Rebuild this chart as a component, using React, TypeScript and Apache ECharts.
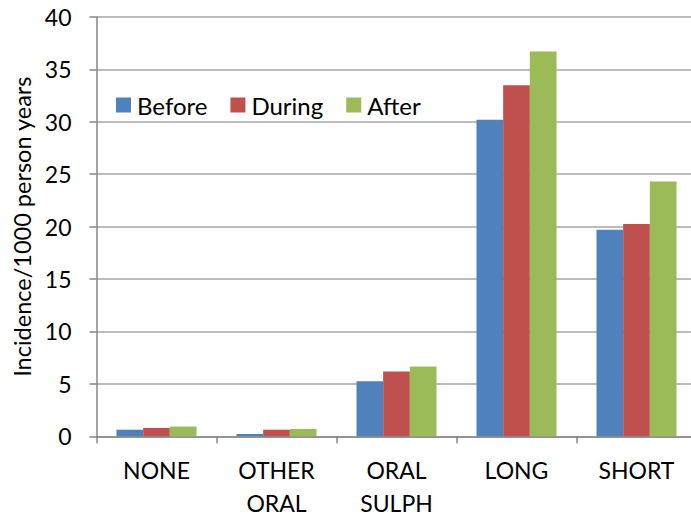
import React, { useEffect, useRef } from "react";
import * as echarts from "echarts";

const categories = ["NONE", "OTHER\nORAL", "ORAL\nSULPH", "LONG", "SHORT"];
const seriesNames = ["Before", "During", "After"];
const before = [0.63, 0.22, 5.25, 30.2, 19.7];
const during = [0.8, 0.63, 6.17, 33.5, 20.25];
const after = [0.93, 0.7, 6.65, 36.7, 24.3];
const colors = ["#4F81BD", "#C0504D", "#9BBB59"];
const yTitle = "Incidence/1000 person years";

const FONT = "Lato, 'Noto Sans', sans-serif";

export default function App() {
  const ref = useRef<HTMLDivElement>(null);

  useEffect(() => {
    if (!ref.current) return;
    const chart = echarts.init(ref.current, null, { renderer: "svg" });
    const values = [before, during, after];
    chart.setOption({
      animation: false,
      backgroundColor: "#ffffff",
      textStyle: { fontFamily: FONT, color: "#000" },
      legend: {
        left: 111,
        top: 88,
        itemWidth: 15,
        itemHeight: 15,
        itemGap: 23,
        icon: "rect",
        textStyle: { fontFamily: FONT, fontSize: 24, color: "#000", padding: [0, 0, 0, 1] },
        data: seriesNames,
      },
      grid: {
        left: 96.5,
        top: 17,
        width: 600,
        height: 419.3,
        containLabel: false,
        outerBoundsMode: "none",
      },
      xAxis: {
        type: "category",
        data: categories,
        axisLine: { lineStyle: { color: "#868686", width: 1.5 } },
        axisTick: { show: true, length: 7, lineStyle: { color: "#868686", width: 1.5 } },
        axisLabel: {
          fontFamily: FONT,
          fontSize: 23,
          color: "#000",
          margin: 17.5,
          lineHeight: 33,
          interval: 0,
        },
      },
      yAxis: {
        type: "value",
        min: 0,
        max: 40,
        interval: 5,
        name: yTitle,
        nameLocation: "middle",
        nameRotate: 90,
        nameGap: 60,
        nameTextStyle: { fontFamily: FONT, fontSize: 23.5, color: "#000" },
        axisLine: { show: true, lineStyle: { color: "#868686", width: 1.5 } },
        axisTick: { show: true, length: 7, lineStyle: { color: "#868686", width: 1.5 } },
        axisLabel: { fontFamily: FONT, fontSize: 23, color: "#000", margin: 25 },
        splitLine: { lineStyle: { color: "#A6A6A6", width: 1.5 } },
      },
      series: seriesNames.map((name, i) => ({
        name,
        type: "bar",
        data: values[i],
        barGap: "0%",
        barCategoryGap: "33.3%",
        itemStyle: { color: colors[i] },
      })),
    });
    return () => chart.dispose();
  }, []);

  return (
    <div
      ref={ref}
      style={{ position: "fixed", left: 0, top: 0, width: 691, height: 515 }}
    />
  );
}
